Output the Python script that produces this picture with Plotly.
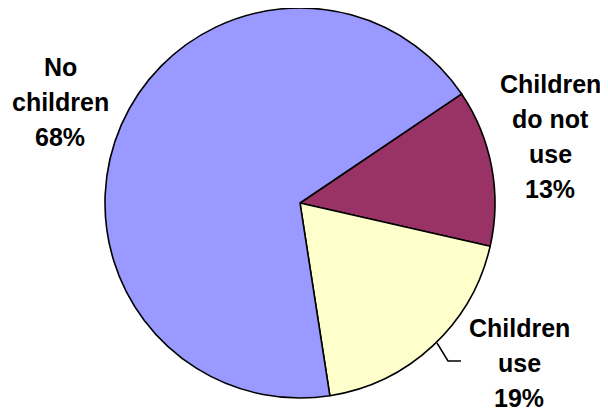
import plotly.graph_objects as go

WIN_W, WIN_H = 608, 415
OFF = 8  # page margin offset of the browser
W, H = WIN_W - 2 * OFF, WIN_H - OFF

# Data
labels = ["Children do not use", "Children use", "No children"]
values = [13, 19, 68]
label_lines = [["Children", "do not", "use"], ["Children", "use"], ["No", "children"]]
colors = ["#993366", "#FFFFCC", "#9999FF"]

# Pie geometry (pixels in the reference picture)
cx, cy, r = 300, 203, 195

def px(x):
    return (x - OFF) / W

def py(y):
    return 1 - (y - OFF) / H

def clamp(v):
    return min(1.0, max(0.0, v))

fig = go.Figure(go.Pie(
    labels=labels,
    values=values,
    sort=False,
    direction="clockwise",
    rotation=56,
    marker=dict(colors=colors, line=dict(color="black", width=1.6)),
    textinfo="none",
    hoverinfo="label+percent",
    domain=dict(x=[clamp(px(cx - r)), clamp(px(cx + r))],
                y=[clamp(py(cy + r)), clamp(py(cy - r))]),
    showlegend=False,
))

# label centers (pixels) per slice: (x, y of first line)
label_pos = [(550, 84), (519, 328), (60, 67)]
line_gap = 35
total = sum(values)
for lines, v, (lx, ly) in zip(label_lines, values, label_pos):
    all_lines = lines + [f"{round(100 * v / total)}%"]
    for i, t in enumerate(all_lines):
        fig.add_annotation(
            x=px(lx), y=py(ly + i * line_gap), xref="paper", yref="paper",
            text=f"<b>{t}</b>", showarrow=False,
            font=dict(family="Liberation Sans, Arial, sans-serif", size=25, color="black"),
            xanchor="center", yanchor="middle",
        )

# leader line for "Children use"
fig.add_shape(
    type="path", xref="paper", yref="paper",
    path=f"M {px(437)} {py(343)} L {px(448)} {py(361)} L {px(461)} {py(361)}",
    line=dict(color="black", width=1.5),
)

fig.update_layout(
    width=W, height=H,
    margin=dict(l=0, r=0, t=0, b=0),
    paper_bgcolor="white",
    plot_bgcolor="white",
)

fig.write_html("out.html")
